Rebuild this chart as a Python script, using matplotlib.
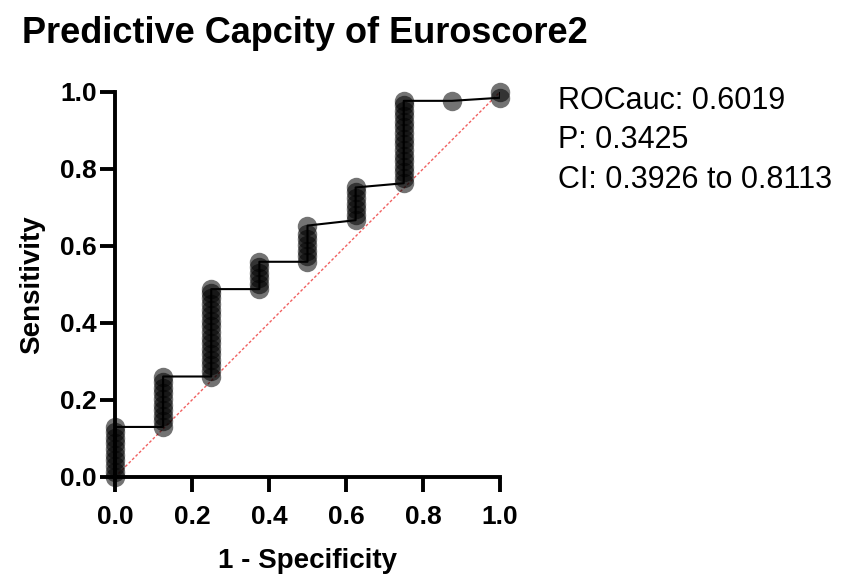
import matplotlib.pyplot as plt
import numpy as np

plt.rcParams['font.family'] = ['Liberation Sans', 'DejaVu Sans']

# ROC points (1 - specificity, sensitivity)
fpr = [0.0] * 10 + [0.125] * 10 + [0.25] * 17 + [0.375] * 6 + [0.5] * 7 \
    + [0.625] * 7 + [0.75] * 16 + [0.875, 1.0, 1.0]
tpr = [0.0, 0.014, 0.029, 0.043, 0.058, 0.072, 0.087, 0.101, 0.116, 0.130,
       0.130, 0.145, 0.159, 0.174, 0.188, 0.203, 0.217, 0.232, 0.246, 0.261,
       0.261, 0.275, 0.290, 0.304, 0.319, 0.333, 0.348, 0.362, 0.377, 0.391,
       0.406, 0.420, 0.435, 0.449, 0.464, 0.478, 0.488,
       0.488, 0.502, 0.517, 0.531, 0.546, 0.559,
       0.559, 0.573, 0.588, 0.602, 0.617, 0.631, 0.653,
       0.667, 0.681, 0.696, 0.710, 0.725, 0.739, 0.752,
       0.763, 0.777, 0.792, 0.806, 0.821, 0.835, 0.850, 0.864, 0.879, 0.893,
       0.908, 0.922, 0.937, 0.951, 0.966, 0.977,
       0.977, 0.985, 1.0]

title = 'Predictive Capcity of Euroscore2'
stats = ['ROCauc: 0.6019', 'P: 0.3425', 'CI: 0.3926 to 0.8113']
ticks = [0.0, 0.2, 0.4, 0.6, 0.8, 1.0]

fig = plt.figure(figsize=(8.43, 5.8), dpi=100)
ax = fig.add_axes([0.1364, 0.1776, 0.4567, 0.6638])

ax.plot([0, 1], [0, 1], color='#f06060', lw=1, ls=(0, (2, 1.5)), zorder=1)
ax.plot(fpr, tpr, color='black', lw=1.5, zorder=2)
ax.plot(fpr, tpr, 'o', color='black', alpha=0.55, ms=14, mec='none',
        clip_on=False, zorder=3)

ax.set_xlim(0, 1)
ax.set_ylim(0, 1)
ax.set_xticks(ticks)
ax.set_yticks(ticks)
ax.set_xticklabels([f'{t:.1f}' for t in ticks])
ax.set_yticklabels([f'{t:.1f}' for t in ticks])
ax.tick_params(width=2.8, length=11, labelsize=19)
ax.tick_params(axis='x', pad=9)
ax.tick_params(axis='y', pad=2)
for lab in ax.get_xticklabels() + ax.get_yticklabels():
    lab.set_fontweight('bold')
for s in ['top', 'right']:
    ax.spines[s].set_visible(False)
for s in ['left', 'bottom']:
    ax.spines[s].set_linewidth(2.8)

ax.set_xlabel('1 - Specificity', fontsize=20, fontweight='bold', labelpad=14)
ax.set_ylabel('Sensitivity', fontsize=20, fontweight='bold', labelpad=11)

fig.text(0.026, 0.943, title, fontsize=26, fontweight='bold', va='center')
for i, s in enumerate(stats):
    fig.text(0.662, 0.826 - i * 0.068, s, fontsize=22, va='center')

fig.savefig('out.png', dpi=100)
